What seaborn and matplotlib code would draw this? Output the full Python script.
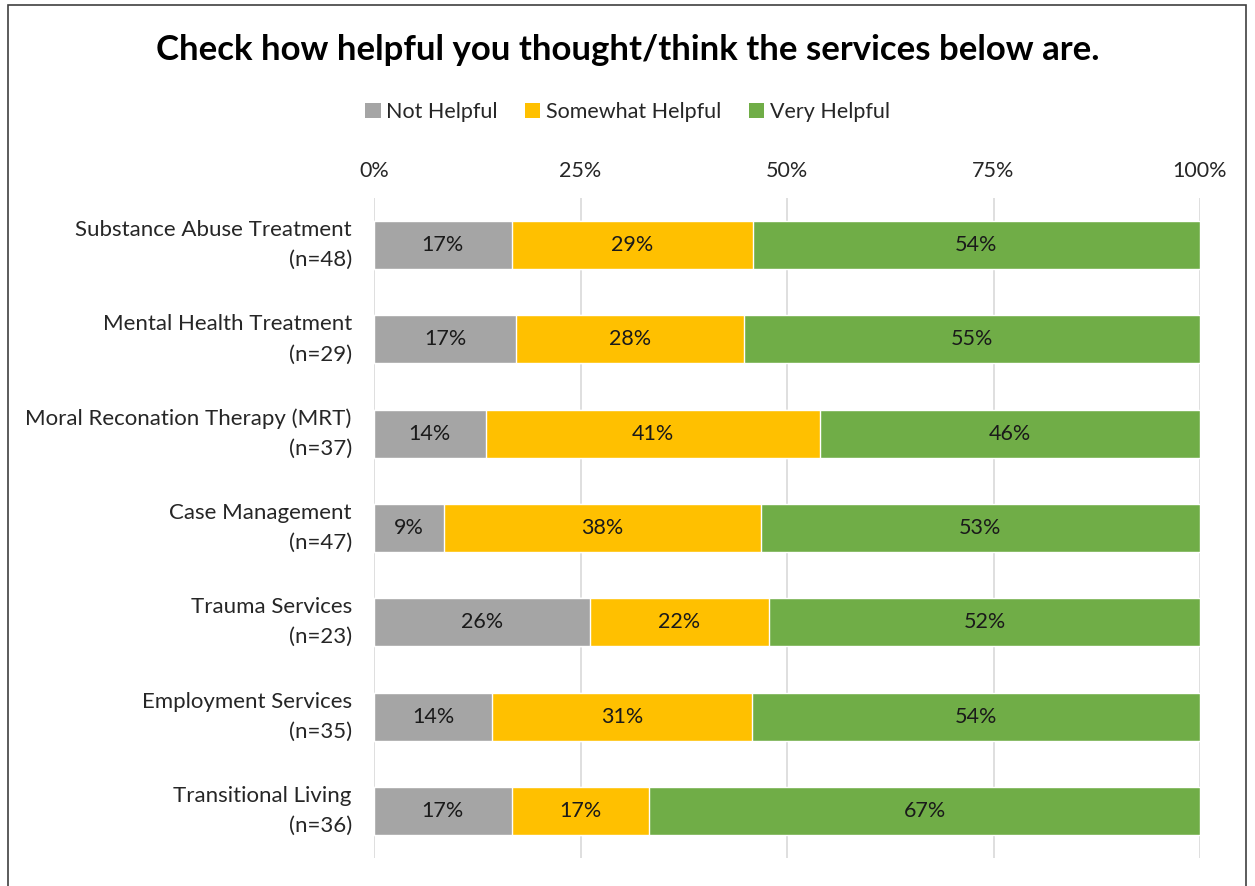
import matplotlib
matplotlib.use("Agg")
import matplotlib.pyplot as plt
import seaborn as sns
import pandas as pd
import numpy as np
from matplotlib.patches import Rectangle, Patch

categories = ["Substance Abuse Treatment\n(n=48)", "Mental Health Treatment\n(n=29)",
              "Moral Reconation Therapy (MRT)\n(n=37)", "Case Management\n(n=47)",
              "Trauma Services\n(n=23)", "Employment Services\n(n=35)",
              "Transitional Living\n(n=36)"]
not_helpful = [16.67, 17.24, 13.51, 8.51, 26.09, 14.29, 16.67]
somewhat_helpful = [29.17, 27.59, 40.54, 38.30, 21.74, 31.43, 16.67]
very_helpful = [54.17, 55.17, 45.95, 53.19, 52.17, 54.29, 66.67]
series_names = ["Not Helpful", "Somewhat Helpful", "Very Helpful"]
colors = ["#A5A5A5", "#FFC000", "#70AD47"]

sns.set_theme(style="white")
plt.rcParams['font.family'] = ['Lato', 'DejaVu Sans']

df = pd.DataFrame({"cat": categories, "nh": not_helpful, "sh": somewhat_helpful, "vh": very_helpful})
df["c1"] = df["nh"]
df["c2"] = df["nh"] + df["sh"]
df["c3"] = df["c2"] + df["vh"]

fig = plt.figure(figsize=(12.55, 8.86), dpi=100)
ax = fig.add_axes([374/1255, 1-858/886, 826/1255, (858-198)/886])

for col, c in zip(["c3", "c2", "c1"], colors[::-1]):
    sns.barplot(data=df, x=col, y="cat", orient="h", color=c, width=0.51,
                saturation=1, ax=ax, zorder=3)

fs = 15.5
for i, row in df.iterrows():
    ax.text(row["nh"]/2, i, f"{round(row['nh']):.0f}%", ha="center", va="center", fontsize=fs, zorder=5, color="#1a1a1a")
    ax.text(row["nh"] + row["sh"]/2, i, f"{round(row['sh']):.0f}%", ha="center", va="center", fontsize=fs, zorder=5, color="#1a1a1a")
    ax.text(row["c2"] + row["vh"]/2, i, f"{round(row['vh']):.0f}%", ha="center", va="center", fontsize=fs, zorder=5, color="#1a1a1a")

ax.set_xlim(0, 100)
ax.set_ylim(6.5, -0.5)
ax.set_xticks([0, 25, 50, 75, 100])
ax.set_xticklabels(["0%", "25%", "50%", "75%", "100%"])
ax.xaxis.tick_top()
ax.tick_params(axis="x", length=0, pad=12, labelsize=fs, colors="#262626")
ax.tick_params(axis="y", length=0, pad=16, labelsize=16, colors="#262626")
ax.set_yticks(range(len(categories)))
ax.set_yticklabels(categories, linespacing=1.62, ha="right", va="center", multialignment="right")
ax.set_xlabel("")
ax.set_ylabel("")
ax.grid(axis="x", color="#D9D9D9", linewidth=1.2, zorder=0)
ax.set_axisbelow(True)
for s in ax.spines.values():
    s.set_visible(False)

handles = [Patch(facecolor=c, edgecolor="none") for c in colors]
fig.legend(handles, series_names, loc="center", bbox_to_anchor=(0.5, 1-112/886), ncol=3,
           frameon=False, fontsize=fs, handlelength=0.7, handleheight=0.7,
           handletextpad=0.25, columnspacing=1.3, labelcolor="#262626")

fig.text(0.5, 1-50/886, "Check how helpful you thought/think the services below are.",
         ha="center", va="center", fontsize=25, fontweight="bold", color="black")

fig.patches.append(Rectangle((8/1255, -0.01), 1-9/1255-8/1255, 1-5/886+0.01, transform=fig.transFigure,
                             fill=False, edgecolor="#404040", linewidth=1.2))

fig.savefig("out.png", dpi=100)
